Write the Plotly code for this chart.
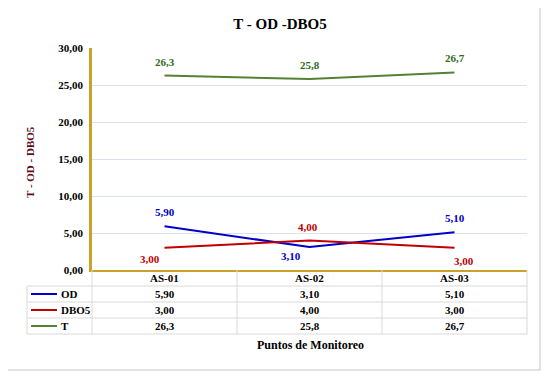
import plotly.graph_objects as go

categories = ["AS-01", "AS-02", "AS-03"]
series_names = ["OD", "DBO5", "T"]
od = [5.90, 3.10, 5.10]
dbo5 = [3.00, 4.00, 3.00]
temp = [26.3, 25.8, 26.7]
od_txt = ["5,90", "3,10", "5,10"]
dbo5_txt = ["3,00", "4,00", "3,00"]
temp_txt = ["26,3", "25,8", "26,7"]

OFF = 8  # page body margin
W, H = 549 - OFF, 376 - OFF
RX0, RX1, RY0, RY1 = 92, 527, 48, 270  # plot area in reference pixels
X0, X1, Y0, Y1 = RX0 - OFF, RX1 - OFF, RY0 - OFF, RY1 - OFF
FONT = "Liberation Serif"

def px(x):
    return (x - OFF - X0) / (X1 - X0)

def py(y):
    return (Y1 - (y - OFF)) / (Y1 - Y0)

colors = {"OD": "#0000C8", "DBO5": "#C00000", "T": "#548235"}
label_colors = {"OD": "#0000C8", "DBO5": "#C00000", "T": "#2E6B16"}
values = {"OD": od, "DBO5": dbo5, "T": temp}
texts = {"OD": od_txt, "DBO5": dbo5_txt, "T": temp_txt}
shifts = {
    "OD": [(0, 14), (-19, -9), (0, 14)],
    "DBO5": [(-15, -11), (-2, 13), (9, -13)],
    "T": [(0, 13), (0, 14), (0, 14)],
}

fig = go.Figure()
for name in series_names:
    fig.add_trace(go.Scatter(x=categories, y=values[name], mode="lines",
                             line=dict(color=colors[name], width=2),
                             name=name, showlegend=False, hoverinfo="skip"))

ann = []
for name in series_names:
    for i, c in enumerate(categories):
        dx, dy = shifts[name][i]
        ann.append(dict(x=c, y=values[name][i], xref="x", yref="y", text=texts[name][i],
                        showarrow=False, xshift=dx, yshift=dy,
                        xanchor="center", yanchor="middle",
                        font=dict(family=FONT, size=11, color=label_colors[name], weight="bold")))

shapes = []
grid = "#D9D9D9"
rows_y = [286, 302, 318, 334]
for y in rows_y:
    shapes.append(dict(type="line", xref="paper", yref="paper", x0=px(27), x1=px(RX1),
                       y0=py(y), y1=py(y), line=dict(color=grid, width=1)))
col_w = (RX1 - RX0) / len(categories)
for k in range(len(categories) + 1):
    x = RX0 + k * col_w
    shapes.append(dict(type="line", xref="paper", yref="paper", x0=px(x), x1=px(x),
                       y0=py(270), y1=py(334), line=dict(color=grid, width=1)))
shapes.append(dict(type="line", xref="paper", yref="paper", x0=px(27), x1=px(27),
                   y0=py(286), y1=py(334), line=dict(color=grid, width=1)))
shapes.append(dict(type="rect", xref="paper", yref="paper", x0=px(5), x1=px(540),
                   y0=py(5), y1=py(370), line=dict(color="#D9D9D9", width=1.5)))

tf = dict(family=FONT, size=11, color="#000000", weight="bold")
for i, c in enumerate(categories):
    cx = px(RX0 + (i + 0.5) * col_w)
    ann.append(dict(x=cx, y=py(278), xref="paper", yref="paper", text=c,
                    showarrow=False, xanchor="center", yanchor="middle", font=tf))
    for r, name in enumerate(series_names):
        ann.append(dict(x=cx, y=py(294 + 16 * r), xref="paper", yref="paper",
                        text=texts[name][i], showarrow=False,
                        xanchor="center", yanchor="middle", font=tf))
for r, name in enumerate(series_names):
    yy = py(294 + 16 * r)
    shapes.append(dict(type="line", xref="paper", yref="paper", x0=px(31), x1=px(57),
                       y0=yy, y1=yy, line=dict(color=colors[name], width=2)))
    ann.append(dict(x=px(59), y=yy, xref="paper", yref="paper", text=name,
                    showarrow=False, xanchor="left", yanchor="middle", font=tf))

ann.append(dict(x=px(310), y=py(345), xref="paper", yref="paper",
                text="Puntos de Monitoreo", showarrow=False,
                xanchor="center", yanchor="middle",
                font=dict(family=FONT, size=12, color="#000000", weight="bold")))
ann.append(dict(x=px(30), y=py(162), xref="paper", yref="paper",
                text="T - OD - DBO5", showarrow=False, textangle=-90,
                xanchor="center", yanchor="middle",
                font=dict(family=FONT, size=11, color="#5C0F1E", weight="bold")))

fig.update_layout(
    width=W, height=H,
    margin=dict(l=X0, r=W - X1, t=Y0, b=H - Y1),
    paper_bgcolor="white", plot_bgcolor="white",
    separators=",.",
    title=dict(text="T - OD -DBO5", x=(280 - OFF) / W, xanchor="center",
               y=1 - (24 - OFF) / H, yanchor="middle",
               font=dict(family=FONT, size=15, color="#000000", weight="bold")),
    xaxis=dict(showticklabels=False, showgrid=False, zeroline=False,
               range=[-0.5, 2.5],
               showline=True, linecolor="#C9A227", linewidth=1.5, ticks=""),
    yaxis=dict(range=[0, 30], dtick=5, tickformat=".2f", showgrid=True,
               gridcolor="#D9E2F3", gridwidth=1, zeroline=False,
               showline=True, linecolor="#C9A227", linewidth=2.5,
               tickfont=dict(family=FONT, size=11, color="#000000", weight="bold"),
               ticks="", ticklabelstandoff=4),
    annotations=ann, shapes=shapes,
)

fig.write_html("out.html")
